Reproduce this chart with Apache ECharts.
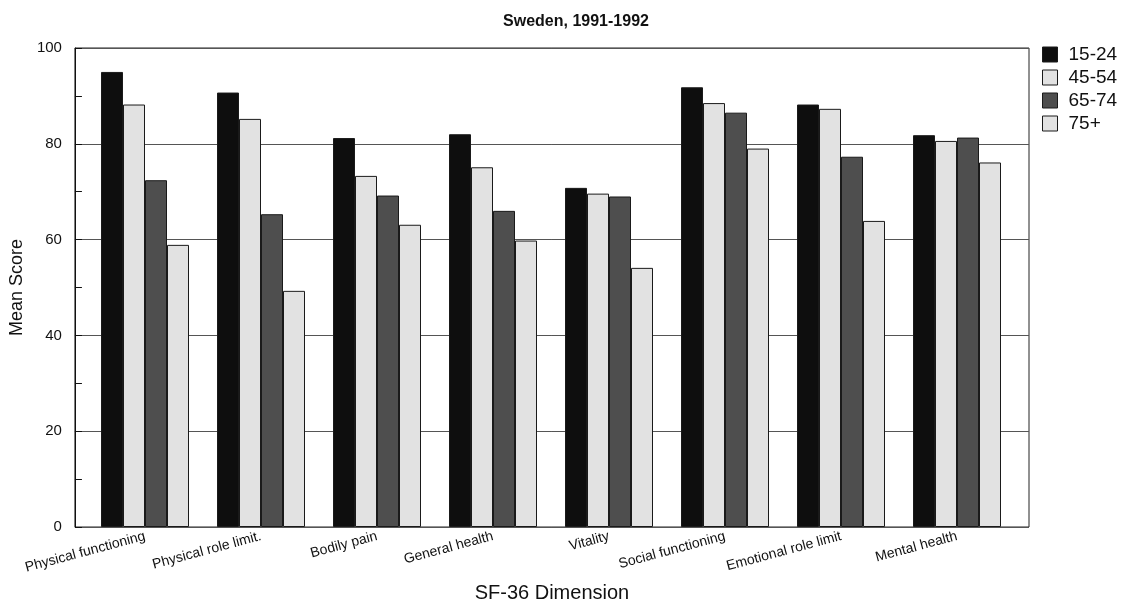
<!DOCTYPE html>
<html>
<head>
<meta charset="utf-8">
<script src="https://cdn.jsdelivr.net/npm/echarts@6/dist/echarts.min.js"></script>
<style>html,body{margin:0;padding:0;background:#fff}#c{width:1129px;height:608px}</style>
</head>
<body>
<div id="c"></div>
<script>
const categories = ['Physical functioning','Physical role limit.','Bodily pain','General health','Vitality','Social functioning','Emotional role limit','Mental health'];
const seriesNames = ['15-24','45-54','65-74','75+'];
const age15_24 = [95.0, 90.7, 81.2, 82.0, 70.8, 91.8, 88.2, 81.8];
const age45_54 = [88.2, 85.2, 73.3, 75.1, 69.6, 88.5, 87.3, 80.6];
const age65_74 = [72.4, 65.3, 69.2, 66.0, 69.0, 86.5, 77.3, 81.3];
const age75p   = [58.9, 49.3, 63.1, 59.8, 54.1, 79.0, 63.9, 76.1];
const yTicks = [0, 20, 40, 60, 80, 100];

const colors = ['#0e0e0e', '#e2e2e2', '#4e4e4e', '#e2e2e2'];
const values = [age15_24, age45_54, age65_74, age75p];
const font = 'Liberation Sans, Arial, sans-serif';

const chart = echarts.init(document.getElementById('c'), null, {renderer: 'canvas'});
chart.setOption({
  animation: false,
  backgroundColor: '#fff',
  textStyle: {fontFamily: font},
  title: {
    text: 'Sweden, 1991-1992',
    left: 571, top: 9, textAlign: 'center',
    textStyle: {fontSize: 16, fontWeight: 'bold', color: '#111', fontFamily: font}
  },
  legend: {
    orient: 'vertical', left: 1042, top: 45, padding: 0,
    itemWidth: 15, itemHeight: 15, itemGap: 4,
    icon: 'rect',
    data: seriesNames,
    itemStyle: {borderColor: '#1a1a1a', borderWidth: 1},
    textStyle: {fontSize: 19, color: '#111', fontFamily: font, padding: [0,0,0,6]}
  },
  grid: [
    {left: 74, right: 100, top: 48, bottom: 81, show: true, borderColor: '#222', borderWidth: 1, backgroundColor: 'transparent'},
    {left: 87, right: 114, top: 48, bottom: 81}
  ],
  xAxis: [
    {gridIndex: 0, type: 'value', min: 0, max: 1,
     axisLine: {show: false}, axisTick: {show: false}, axisLabel: {show: false}, splitLine: {show: false},
     name: 'SF-36 Dimension', nameLocation: 'middle', nameGap: 56,
     nameTextStyle: {fontSize: 20, color: '#111', fontFamily: font}},
    {gridIndex: 1, type: 'category', data: categories,
     axisLine: {show: false}, axisTick: {show: false},
     axisLabel: {rotate: 15, fontSize: 14, color: '#111', margin: 9, interval: 0, fontFamily: font}}
  ],
  yAxis: [
    {gridIndex: 0, type: 'value', min: 0, max: 100, interval: 20,
     axisLine: {show: true, lineStyle: {color: '#111', width: 1}},
     axisTick: {show: true, inside: true, length: 7, lineStyle: {color: '#111'}},
     minorTick: {show: true, splitNumber: 2, length: 7, lineStyle: {color: '#111'}},
     axisLabel: {fontSize: 15, color: '#111', margin: 13, fontFamily: font,
                 formatter: v => yTicks.includes(v) ? String(v) : ''},
     splitLine: {show: true, lineStyle: {color: '#555', width: 1}},
     name: 'Mean Score', nameLocation: 'middle', nameGap: 46,
     nameTextStyle: {fontSize: 18, color: '#111', fontFamily: font}},
    {gridIndex: 1, type: 'value', min: 0, max: 100, show: false}
  ],
  series: seriesNames.map((n, i) => ({
    name: n, type: 'bar', xAxisIndex: 1, yAxisIndex: 1,
    data: values[i], barWidth: 22, barGap: '0%',
    itemStyle: {color: colors[i], borderColor: '#1a1a1a', borderWidth: 1}
  }))
});
</script>
</body>
</html>
